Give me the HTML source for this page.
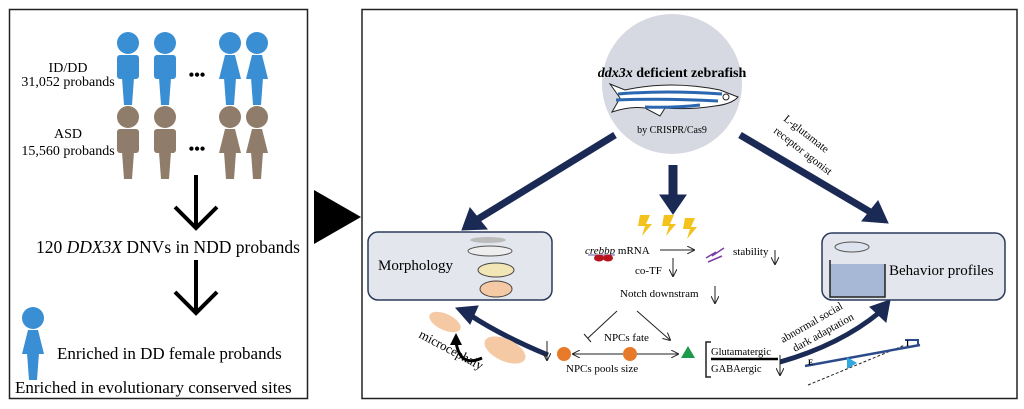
<!DOCTYPE html>
<html><head><meta charset="utf-8"><style>
body{margin:0;background:#fff;}
svg{display:block;font-family:"Liberation Serif",serif;}
</style></head><body>
<svg width="1024" height="409" viewBox="0 0 1024 409" xmlns="http://www.w3.org/2000/svg">
<defs>
<g id="male"><circle cx="0" cy="0" r="11"/><rect x="-11" y="12" width="22" height="24" rx="3"/><path d="M-6 35 L6 35 L4 62 L-4 62Z"/></g>
<g id="fem"><circle cx="0" cy="0" r="11"/><path d="M-5 12 L5 12 L11 36 L-11 36Z"/><path d="M-6 35 L6 35 L4 62 L-4 62Z"/></g>
<marker id="ah" markerWidth="8" markerHeight="8" refX="7" refY="4" orient="auto" markerUnits="userSpaceOnUse"><path d="M0 0 L8 4 L0 8" fill="none" stroke="#222" stroke-width="1"/></marker>
</defs>
<rect x="9.5" y="9.5" width="298" height="389" fill="#fff" stroke="#222" stroke-width="1.5"/>
<g fill="#3a8fd4">
<use href="#male" x="128" y="43"/><use href="#male" x="165" y="43"/><use href="#fem" x="230" y="43"/><use href="#fem" x="257" y="43"/>
<use href="#fem" x="33" y="318"/>
</g>
<g fill="#8f7c6a">
<use href="#male" x="128" y="117"/><use href="#male" x="165" y="117"/><use href="#fem" x="230" y="117"/><use href="#fem" x="257" y="117"/>
</g>
<text x="197" y="80" font-size="16" text-anchor="middle" font-weight="bold">•••</text>
<text x="197" y="154" font-size="16" text-anchor="middle" font-weight="bold">•••</text>
<g font-size="14" text-anchor="middle">
<text x="68" y="72">ID/DD</text><text x="68" y="86">31,052 probands</text>
<text x="68" y="138">ASD</text><text x="68" y="155">15,560 probands</text>
</g>
<g stroke="#000" stroke-width="4" fill="none">
<path d="M196 175 V228 M175 207 L196 228 L217 207"/>
<path d="M196 260 V313 M175 292 L196 313 L217 292"/>
</g>
<text x="36" y="253" font-size="17.5">120 <tspan font-style="italic">DDX3X</tspan> DNVs in NDD probands</text>
<text x="57" y="359" font-size="17">Enriched in DD female probands</text>
<text x="15" y="393" font-size="17">Enriched in evolutionary conserved sites</text>
<path d="M314 190 L361 217 L314 244Z" fill="#000"/>
<rect x="362" y="9.5" width="655" height="389" fill="#fff" stroke="#222" stroke-width="1.5"/>
<circle cx="672" cy="84" r="70" fill="#d6d9e1"/>
<text x="672" y="77" font-size="14" font-weight="bold" text-anchor="middle"><tspan font-style="italic">ddx3x</tspan> deficient zebrafish</text>
<path d="M610 84 L625 90 Q670 80 720 90 L738 97 Q732 104 715 106 Q690 110 665 108 L660 116 L645 108 Q630 106 612 112 L620 98Z" fill="#fff" stroke="#222" stroke-width="1"/>
<path d="M618 94 Q665 90 722 94 M616 100 Q665 98 718 101 M645 107 Q675 108 700 105" stroke="#2b66b0" stroke-width="3" fill="none"/>
<circle cx="726" cy="97" r="3" fill="#fff" stroke="#222"/>
<text x="672" y="133" font-size="10" text-anchor="middle">by CRISPR/Cas9</text>
<g fill="#1b2a55" stroke="#1b2a55">
<path d="M615 135 L478 219" stroke-width="7"/><path d="M462 230 L470 208 L487 229Z"/>
<path d="M673 165 V198" stroke-width="9"/><path d="M660 195 L686 195 L673 214Z"/>
<path d="M740 135 L872 213" stroke-width="7"/><path d="M888 223 L862 221 L878 201Z"/>
<path d="M548 355 Q500 335 470 315" fill="none" stroke-width="5"/><path d="M456 308 L478 306 L470 324Z"/>
<path d="M780 362 Q840 345 880 312" fill="none" stroke-width="5"/><path d="M890 300 L886 322 L870 307Z"/>
</g>
<text font-size="11" transform="translate(783 120) rotate(38)">L-glutamate</text>
<text font-size="11" transform="translate(773 132) rotate(38)">receptor agonist</text>
<rect x="368" y="232" width="184" height="68" rx="10" fill="#e4e6ed" stroke="#2b3a5c" stroke-width="1.5"/>
<text x="378" y="270" font-size="15">Morphology</text>
<ellipse cx="488" cy="240" rx="18" ry="3" fill="#bbb"/>
<ellipse cx="490" cy="251" rx="22" ry="5" fill="#eee" stroke="#555"/>
<ellipse cx="496" cy="270" rx="18" ry="7" fill="#f3e6b6" stroke="#444"/>
<ellipse cx="496" cy="289" rx="16" ry="8" fill="#f5c9a4" stroke="#444"/>
<g fill="#f4c21c"><path d="M640 215 L650 215 L646 224 L652 224 L642 236 L645 226 L638 226Z"/><path d="M664 215 L674 215 L670 224 L676 224 L666 236 L669 226 L662 226Z"/><path d="M685 218 L695 218 L691 227 L697 227 L687 239 L690 229 L683 229Z"/></g>
<g font-size="11">
<text x="585" y="254"><tspan font-style="italic">crebbp</tspan> mRNA</text>
<text x="635" y="274">co-TF</text>
<text x="620" y="297">Notch downstram</text>
<text x="733" y="255">stability</text>
<text x="604" y="341">NPCs fate</text>
<text x="566" y="372">NPCs pools size</text>
<text x="711" y="355" font-size="10.5">Glutamatergic</text>
<text x="711" y="372" font-size="10.5">GABAergic</text>
</g>
<g stroke="#222" stroke-width="1" fill="none">
<line x1="660" y1="250" x2="694" y2="250" marker-end="url(#ah)"/>
<line x1="673" y1="258" x2="673" y2="276" marker-end="url(#ah)"/>
<line x1="775" y1="250" x2="775" y2="264" marker-end="url(#ah)"/>
<line x1="715" y1="286" x2="715" y2="303" marker-end="url(#ah)"/>
<line x1="547" y1="341" x2="547" y2="360" marker-end="url(#ah)"/>
<line x1="780" y1="355" x2="780" y2="375" marker-end="url(#ah)"/>
<line x1="617" y1="311" x2="588" y2="338"/><line x1="584" y1="334" x2="591" y2="342"/>
<line x1="637" y1="311" x2="670" y2="340" marker-end="url(#ah)"/>
<line x1="623" y1="354" x2="573" y2="354" marker-end="url(#ah)"/>
<line x1="637" y1="354" x2="678" y2="354" marker-end="url(#ah)"/>
<path d="M711 342 H706 V377 H711" stroke-width="1.5"/>
<path d="M588 255 L615 255" stroke="#6b4fa0"/>
<path d="M706 258 L716 252 M708 262 L722 256 M712 256 L724 248" stroke="#7a3fa8" stroke-width="1.5"/>
<path d="M808 385 L905 345" stroke-dasharray="3 2"/>
</g>
<line x1="711" y1="359" x2="778" y2="359" stroke="#000" stroke-width="2.5"/>
<ellipse cx="599" cy="258" rx="5" ry="3.5" fill="#b8141b"/><ellipse cx="608" cy="258" rx="5" ry="3.5" fill="#b8141b"/>
<circle cx="564" cy="354" r="7" fill="#e77a28"/><circle cx="630" cy="354" r="7" fill="#e77a28"/>
<path d="M688 346 L695 358 L681 358Z" fill="#1d9a4a"/>
<path d="M805 366 L920 345" stroke="#2b4a8a" stroke-width="2.5"/>
<path d="M905 340 L918 340 L918 346" stroke="#2b4a8a" stroke-width="2" fill="none"/>
<text x="808" y="365" font-size="8" font-weight="bold">E</text><text x="906" y="346" font-size="8" font-weight="bold">I</text>
<path d="M847 357 L857 363 L847 369Z" fill="#2fa7df"/>
<text font-size="11" transform="translate(783 343) rotate(-30)">abnormal social</text>
<text font-size="11" transform="translate(795 352) rotate(-29)">dark adaptation</text>
<rect x="822" y="233" width="183" height="67" rx="10" fill="#e4e6ed" stroke="#2b3a5c" stroke-width="1.5"/>
<rect x="830" y="264" width="55" height="33" fill="#a7b8d6"/>
<path d="M830 260 V297 H885 V264" stroke="#222" stroke-width="1.5" fill="none"/>
<ellipse cx="852" cy="247" rx="17" ry="5" fill="#dde4f0" stroke="#555"/>
<text x="889" y="275" font-size="15">Behavior profiles</text>
<ellipse cx="445" cy="322" rx="17" ry="8" fill="#f5c9a4" transform="rotate(25 445 322)"/>
<ellipse cx="505" cy="350" rx="22" ry="11" fill="#f5c9a4" transform="rotate(25 505 350)"/>
<path d="M482 358 Q460 368 456 342" stroke="#000" stroke-width="3" fill="none"/>
<path d="M450 345 L456 333 L462 345Z"/>
<text font-size="13" transform="translate(418 337) rotate(28)">microcephaly</text>
</svg>
</body></html>
